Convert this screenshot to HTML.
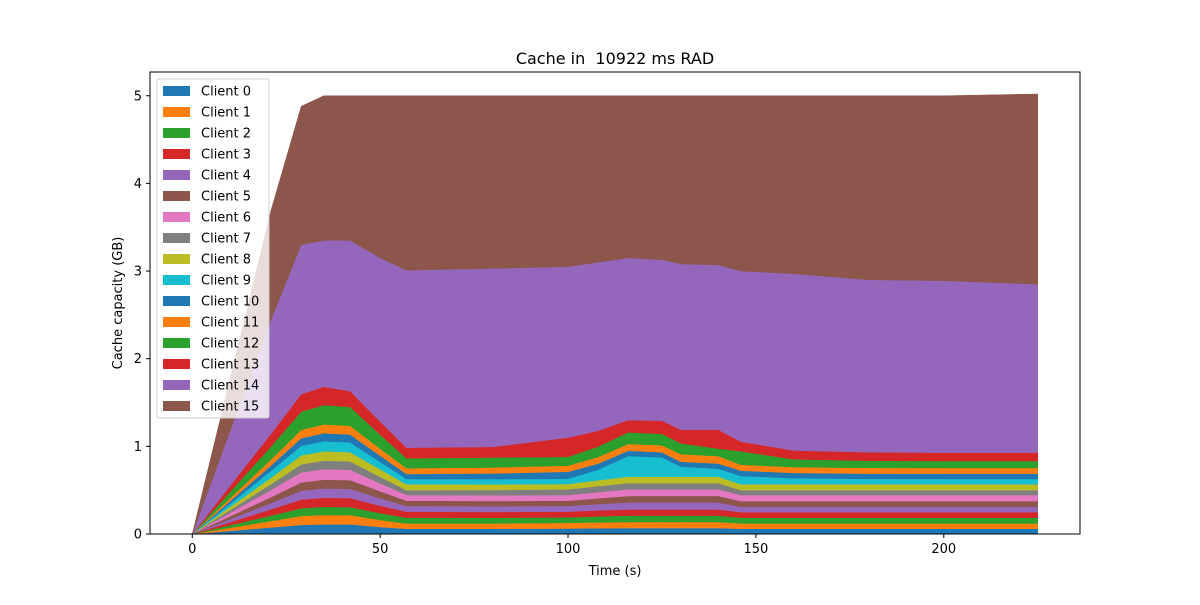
<!DOCTYPE html>
<html><head><meta charset="utf-8"><style>
body{margin:0;background:#fff;}
svg text{font-family:"DejaVu Sans","Liberation Sans",sans-serif;}
</style></head><body>
<svg id="chart" width="1200" height="600" xmlns="http://www.w3.org/2000/svg"></svg>
<script>
const times = [0,21,29,35,42,50,57,80,100,108,116,125,130,140,146,160,180,200,225];
const client0 = [0,0.075,0.104,0.11,0.11,0.08,0.06,0.06,0.063,0.066,0.068,0.068,0.068,0.068,0.06,0.06,0.06,0.06,0.06];
const client1 = [0,0.073,0.102,0.107,0.105,0.08,0.06,0.06,0.064,0.067,0.069,0.069,0.069,0.069,0.06,0.06,0.06,0.06,0.06];
const client2 = [0,0.063,0.088,0.093,0.092,0.078,0.066,0.066,0.063,0.068,0.073,0.073,0.073,0.073,0.066,0.066,0.066,0.066,0.066];
const client3 = [0,0.071,0.099,0.104,0.103,0.085,0.069,0.066,0.065,0.068,0.07,0.07,0.07,0.07,0.064,0.064,0.064,0.064,0.064];
const client4 = [0,0.072,0.101,0.106,0.105,0.085,0.065,0.065,0.065,0.072,0.08,0.08,0.08,0.08,0.06,0.06,0.06,0.06,0.06];
const client5 = [0,0.068,0.095,0.1,0.1,0.08,0.06,0.06,0.06,0.067,0.074,0.074,0.074,0.074,0.065,0.065,0.065,0.065,0.065];
const client6 = [0,0.082,0.114,0.12,0.118,0.09,0.065,0.065,0.065,0.07,0.076,0.076,0.076,0.076,0.07,0.07,0.07,0.07,0.07];
const client7 = [0,0.066,0.092,0.097,0.095,0.075,0.055,0.06,0.065,0.068,0.07,0.07,0.07,0.07,0.055,0.055,0.055,0.055,0.055];
const client8 = [0,0.073,0.102,0.107,0.105,0.085,0.067,0.064,0.06,0.067,0.074,0.074,0.074,0.074,0.067,0.067,0.067,0.067,0.067];
const client9 = [0,0.078,0.109,0.114,0.112,0.085,0.061,0.06,0.06,0.12,0.236,0.22,0.116,0.09,0.095,0.07,0.062,0.061,0.061];
const client10 = [0,0.062,0.087,0.092,0.09,0.07,0.057,0.065,0.08,0.07,0.06,0.058,0.055,0.06,0.061,0.06,0.06,0.06,0.06];
const client11 = [0,0.068,0.095,0.1,0.1,0.08,0.065,0.068,0.07,0.074,0.077,0.08,0.085,0.085,0.067,0.066,0.065,0.065,0.065];
const client12 = [0,0.15,0.209,0.22,0.215,0.16,0.114,0.114,0.1,0.12,0.133,0.13,0.125,0.085,0.154,0.09,0.082,0.08,0.08];
const client13 = [0,0.145,0.198,0.21,0.18,0.15,0.121,0.121,0.22,0.18,0.14,0.15,0.155,0.215,0.11,0.1,0.097,0.095,0.095];
const client14Top = [0,2.45,3.3,3.35,3.35,3.15,3.01,3.03,3.05,3.1,3.15,3.13,3.08,3.07,3.0,2.97,2.9,2.89,2.85];
const client15Top = [0,3.7,4.88,5.0,5.0,5.0,5.0,5.0,5.0,5.0,5.0,5.0,5.0,5.0,5.0,5.0,5.0,5.0,5.02];
const clientNames = ["Client 0","Client 1","Client 2","Client 3","Client 4","Client 5","Client 6","Client 7","Client 8","Client 9","Client 10","Client 11","Client 12","Client 13","Client 14","Client 15"];
const xTicks = [0,50,100,150,200];
const yTicks = [0,1,2,3,4,5];

const colors = ["#1f77b4","#ff7f0e","#2ca02c","#d62728","#9467bd","#8c564b","#e377c2","#7f7f7f","#bcbd22","#17becf"];
const L=150,R=1080,T=72,B=534;
const xmin=-11.25,xmax=236.25,ymin=0,ymax=5.271;
const sx=v=>L+(v-xmin)/(xmax-xmin)*(R-L);
const sy=v=>B-(v-ymin)/(ymax-ymin)*(B-T);
const NS="http://www.w3.org/2000/svg";
const svg=document.getElementById('chart');
function mk(tag,attrs,parent){const e=document.createElementNS(NS,tag);for(const k in attrs)e.setAttribute(k,attrs[k]);(parent||svg).appendChild(e);return e;}

const lower=[client0,client1,client2,client3,client4,client5,client6,client7,client8,client9,client10,client11,client12,client13];
let base=times.map(()=>0);
const layers=[];
lower.forEach(arr=>{const top=base.map((b,i)=>b+arr[i]);layers.push([base,top]);base=top;});
const top14=client14Top.map((v,i)=>Math.max(v,base[i]));
layers.push([base,top14]);
const top15=client15Top.map((v,i)=>Math.max(v,top14[i]));
layers.push([top14,top15]);

const g=mk('g',{});


layers.forEach((ly,k)=>{
  let d='';
  times.forEach((t,i)=>{d+=(i?'L':'M')+sx(t).toFixed(2)+','+sy(ly[1][i]).toFixed(2);});
  for(let i=times.length-1;i>=0;i--) d+='L'+sx(times[i]).toFixed(2)+','+sy(ly[0][i]).toFixed(2);
  d+='Z';
  const p=mk('path',{d:d,fill:colors[k%10],stroke:colors[k%10],'stroke-width':0.5},g);
  
  
});

const ax=mk('rect',{x:L,y:T,width:R-L,height:B-T,fill:'none',stroke:'#000','stroke-width':1});



xTicks.forEach(v=>{
  const x=sx(v);
  mk('line',{x1:x,x2:x,y1:B,y2:B+4,stroke:'#000'});
  const t=mk('text',{x:x,y:B+19,'font-size':13,'text-anchor':'middle'});
  t.textContent=v;
  
  
});
yTicks.forEach(v=>{
  const y=sy(v);
  mk('line',{x1:L-4,x2:L,y1:y,y2:y,stroke:'#000'});
  const t=mk('text',{x:L-8,y:y+4.5,'font-size':13,'text-anchor':'end'});
  t.textContent=v;
  
  
});

const title=mk('text',{x:615,y:64,'font-size':16,'text-anchor':'middle'});
title.textContent='Cache in  10922 ms RAD';


title.style.whiteSpace='pre';
const xl=mk('text',{x:615,y:575,'font-size':13,'text-anchor':'middle'});
xl.textContent='Time (s)';


const yl=mk('text',{x:0,y:0,'font-size':13,'text-anchor':'middle',transform:'translate(122,303) rotate(-90)'});
yl.textContent='Cache capacity (GB)';



const lg=mk('g',{});


mk('rect',{x:157,y:79,width:112,height:339,rx:2,fill:'#fff','fill-opacity':0.8,stroke:'#ccc'},lg);
clientNames.forEach((n,k)=>{
  const y=91+k*21;
  const e=mk('g',{},lg);
  
  
  mk('rect',{x:163,y:y-5,width:27,height:10,fill:colors[k%10]},e);
  const t=mk('text',{x:201,y:y+4.5,'font-size':13},e);
  t.textContent=n;
});
</script>
</body></html>
